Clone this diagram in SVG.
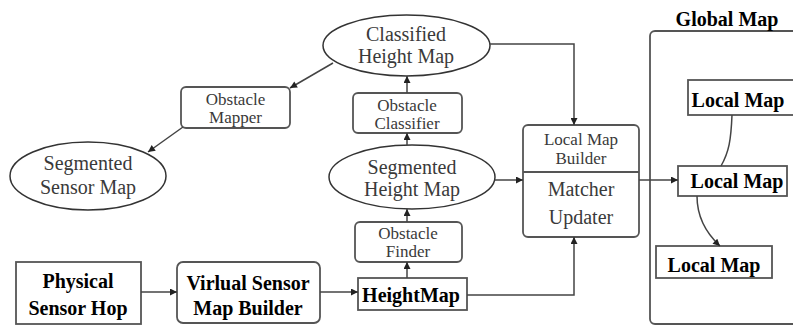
<svg xmlns="http://www.w3.org/2000/svg" width="793" height="326" viewBox="0 0 793 326">
<defs>
<marker id="ah" viewBox="0 0 10 10" refX="10" refY="5" markerWidth="9" markerHeight="7" markerUnits="userSpaceOnUse" orient="auto">
<path d="M0,0 L10,5 L0,10 z" fill="#222"/>
</marker>
</defs>
<rect width="793" height="326" fill="#fff"/>

<g id="global-map">
<rect x="650" y="31" width="160" height="293" rx="5" fill="#fff" stroke="#555" stroke-width="1.8"/>
<text x="727" y="26" font-family="Liberation Serif" text-anchor="middle" font-size="20" font-weight="bold" fill="#000">Global Map</text>
</g>

<g id="classified-height-map">
<ellipse cx="406.5" cy="45.5" rx="83.5" ry="30.5" fill="#fff" stroke="#333" stroke-width="1.5"/>
<text x="406" y="41" font-family="Liberation Serif" text-anchor="middle" font-size="20" fill="#3a3a3a">Classified</text>
<text x="406" y="63" font-family="Liberation Serif" text-anchor="middle" font-size="20" fill="#3a3a3a">Height Map</text>
</g>

<g id="obstacle-mapper">
<rect x="181" y="87" width="109" height="41" rx="5" fill="#fff" stroke="#555" stroke-width="1.8"/>
<text x="235.5" y="105" font-family="Liberation Serif" text-anchor="middle" font-size="17" fill="#3a3a3a">Obstacle</text>
<text x="235.5" y="123" font-family="Liberation Serif" text-anchor="middle" font-size="17" fill="#3a3a3a">Mapper</text>
</g>

<g id="segmented-sensor-map">
<ellipse cx="88" cy="176" rx="78" ry="34" fill="#fff" stroke="#333" stroke-width="1.5"/>
<text x="88" y="170" font-family="Liberation Serif" text-anchor="middle" font-size="20" fill="#3a3a3a">Segmented</text>
<text x="88" y="194" font-family="Liberation Serif" text-anchor="middle" font-size="20" fill="#3a3a3a">Sensor Map</text>
</g>

<g id="obstacle-classifier">
<rect x="353" y="93" width="109" height="40" rx="5" fill="#fff" stroke="#555" stroke-width="1.8"/>
<text x="407" y="111" font-family="Liberation Serif" text-anchor="middle" font-size="17" fill="#3a3a3a">Obstacle</text>
<text x="407" y="129" font-family="Liberation Serif" text-anchor="middle" font-size="17" fill="#3a3a3a">Classifier</text>
</g>

<g id="segmented-height-map">
<ellipse cx="412" cy="177" rx="83" ry="32" fill="#fff" stroke="#333" stroke-width="1.5"/>
<text x="412" y="174" font-family="Liberation Serif" text-anchor="middle" font-size="20" fill="#3a3a3a">Segmented</text>
<text x="412" y="196" font-family="Liberation Serif" text-anchor="middle" font-size="20" fill="#3a3a3a">Height Map</text>
</g>

<g id="obstacle-finder">
<rect x="355" y="222" width="107" height="40" rx="5" fill="#fff" stroke="#555" stroke-width="1.8"/>
<text x="408" y="239" font-family="Liberation Serif" text-anchor="middle" font-size="17" fill="#3a3a3a">Obstacle</text>
<text x="408" y="257" font-family="Liberation Serif" text-anchor="middle" font-size="17" fill="#3a3a3a">Finder</text>
</g>

<g id="heightmap">
<rect x="358" y="278" width="109" height="32" fill="#fff" stroke="#555" stroke-width="1.8"/>
<text x="411" y="302" font-family="Liberation Serif" text-anchor="middle" font-size="20" font-weight="bold" fill="#000">HeightMap</text>
</g>

<g id="physical-sensor-hop">
<rect x="16" y="262" width="125" height="62" fill="#fff" stroke="#555" stroke-width="1.8"/>
<text x="78" y="288" font-family="Liberation Serif" text-anchor="middle" font-size="20" font-weight="bold" fill="#000">Physical</text>
<text x="78" y="315" font-family="Liberation Serif" text-anchor="middle" font-size="20" font-weight="bold" fill="#000">Sensor Hop</text>
</g>

<g id="virtual-sensor-map-builder">
<rect x="177" y="262" width="143" height="61" rx="6" fill="#fff" stroke="#555" stroke-width="1.8"/>
<text x="248" y="290" font-family="Liberation Serif" text-anchor="middle" font-size="20" font-weight="bold" fill="#000">Virlual Sensor</text>
<text x="248" y="315" font-family="Liberation Serif" text-anchor="middle" font-size="20" font-weight="bold" fill="#000">Map Builder</text>
</g>

<g id="local-map-builder">
<rect x="523" y="125" width="116" height="112" rx="5" fill="#fff" stroke="#555" stroke-width="1.8"/>
<line x1="523" y1="172" x2="639" y2="172" stroke="#555" stroke-width="2"/>
<text x="581" y="145" font-family="Liberation Serif" text-anchor="middle" font-size="17" fill="#3a3a3a">Local Map</text>
<text x="581" y="164" font-family="Liberation Serif" text-anchor="middle" font-size="17" fill="#3a3a3a">Builder</text>
<text x="581" y="196" font-family="Liberation Serif" text-anchor="middle" font-size="20" fill="#3a3a3a">Matcher</text>
<text x="581" y="224" font-family="Liberation Serif" text-anchor="middle" font-size="20" fill="#3a3a3a">Updater</text>
</g>

<g id="local-map-top">
<rect x="688" y="80" width="120" height="35" fill="#fff" stroke="#555" stroke-width="1.8"/>
<text x="738" y="107" font-family="Liberation Serif" text-anchor="middle" font-size="20" font-weight="bold" fill="#000">Local Map</text>
</g>

<g id="local-map-middle">
<rect x="678" y="166" width="109" height="30" fill="#fff" stroke="#555" stroke-width="1.8"/>
<text x="737" y="188" font-family="Liberation Serif" text-anchor="middle" font-size="20" font-weight="bold" fill="#000">Local Map</text>
</g>

<g id="local-map-bottom">
<rect x="656" y="246" width="116" height="32" fill="#fff" stroke="#555" stroke-width="1.8"/>
<text x="714" y="272" font-family="Liberation Serif" text-anchor="middle" font-size="20" font-weight="bold" fill="#000">Local Map</text>
</g>

<g id="connectors" fill="none" stroke="#444" stroke-width="1.5">
<line x1="141" y1="292" x2="177" y2="292" marker-end="url(#ah)"/>
<line x1="320" y1="292" x2="358" y2="292" marker-end="url(#ah)"/>
<line x1="407" y1="278" x2="407" y2="262" marker-end="url(#ah)"/>
<line x1="407" y1="222" x2="407" y2="209" marker-end="url(#ah)"/>
<line x1="407" y1="145" x2="407" y2="133" marker-end="url(#ah)"/>
<line x1="407" y1="93" x2="407" y2="76" marker-end="url(#ah)"/>
<line x1="333" y1="63" x2="290" y2="88" marker-end="url(#ah)"/>
<line x1="183" y1="127" x2="148" y2="152" marker-end="url(#ah)"/>
<polyline points="490,44 574,44 574,125" marker-end="url(#ah)"/>
<polyline points="467,295 574,295 574,237" marker-end="url(#ah)"/>
<line x1="495" y1="180" x2="523" y2="180" marker-end="url(#ah)"/>
<line x1="639" y1="180" x2="678" y2="180" marker-end="url(#ah)"/>
<path d="M732,115 C731,140 729,152 721,166"/>
<path d="M697,196 C697,216 706,233 720,246" marker-end="url(#ah)"/>
</g>
</svg>
